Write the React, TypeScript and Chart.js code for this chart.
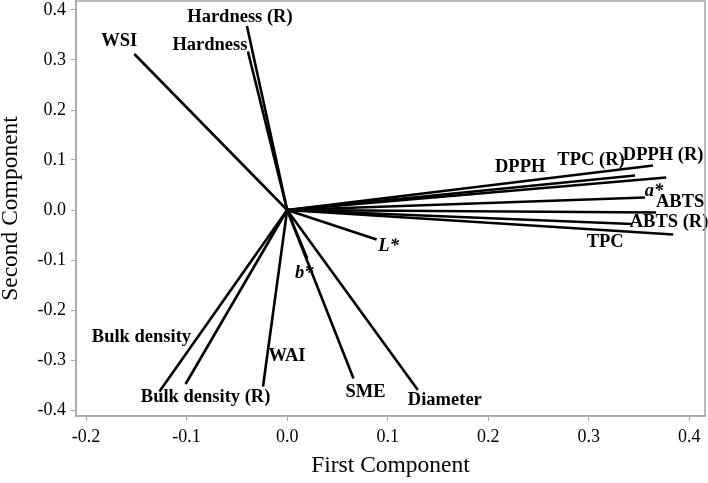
import React, { useEffect, useRef } from 'react';
import { Chart, registerables } from 'chart.js';

Chart.register(...registerables);

// ---- data ----
const variables = [
  'WSI', 'Hardness', 'Hardness (R)', 'DPPH (R)', 'TPC (R)', 'DPPH', 'a*', 'ABTS',
  'ABTS (R)', 'TPC', 'L*', 'b*', 'Bulk density', 'Bulk density (R)', 'WAI', 'SME', 'Diameter',
];
const firstComponent = [
  -0.152, -0.039, -0.040, 0.364, 0.346, 0.377, 0.356, 0.367,
  0.343, 0.384, 0.089, 0.020, -0.127, -0.101, -0.024, 0.066, 0.130,
];
const secondComponent = [
  0.312, 0.317, 0.368, 0.089, 0.069, 0.065, 0.025, -0.005,
  -0.028, -0.049, -0.059, -0.097, -0.363, -0.348, -0.353, -0.337, -0.360,
];
const xTicks = [-0.2, -0.1, 0.0, 0.1, 0.2, 0.3, 0.4];
const yTicks = [-0.4, -0.3, -0.2, -0.1, 0.0, 0.1, 0.2, 0.3, 0.4];

// ---- label layout (pixel offsets from line ends) ----
const labelOffsets: [number, number][] = [
  [-15, -13], [-38, -6], [-7, -9], [10, -10], [-44, -15], [-146, -10], [9, -6], [24, -10],
  [37, -2], [-68, 8], [12, 7], [-3, 15], [-18, -54], [20, 13], [24, -30], [12, 14], [27, 10],
];
const italicLabels = ['a*', 'L*', 'b*'];

const SERIF = '"Liberation Serif", "Times New Roman", serif';

const labelPlugin = {
  id: 'loadingLabels',
  afterDatasetsDraw(chart: any) {
    const { ctx, scales } = chart;
    const xs = scales.x;
    const ys = scales.y;
    ctx.save();
    ctx.fillStyle = '#000';
    ctx.textAlign = 'center';
    ctx.textBaseline = 'middle';
    variables.forEach((name, i) => {
      const px = xs.getPixelForValue(firstComponent[i]) + labelOffsets[i][0];
      const py = ys.getPixelForValue(secondComponent[i]) + labelOffsets[i][1];
      const italic = italicLabels.includes(name);
      ctx.font = `${italic ? 'italic ' : ''}bold 18.5px ${SERIF}`;
      ctx.fillText(name, px, py);
    });
    ctx.restore();
  },
};

const framePlugin = {
  id: 'frame',
  afterDraw(chart: any) {
    const { ctx, chartArea } = chart;
    ctx.save();
    ctx.strokeStyle = '#a6a6a6';
    ctx.lineWidth = 1.5;
    ctx.strokeRect(chartArea.left, chartArea.top, chartArea.right - chartArea.left, chartArea.bottom - chartArea.top);
    ctx.restore();
  },
};

export default function App() {
  const ref = useRef<HTMLCanvasElement | null>(null);

  useEffect(() => {
    if (!ref.current) return;
    const datasets = variables.map((name, i) => ({
      label: name,
      data: [
        { x: 0, y: 0 },
        { x: firstComponent[i], y: secondComponent[i] },
      ],
      showLine: true,
      borderColor: '#000',
      borderWidth: 2.6,
      pointRadius: 0,
      fill: false,
    }));
    const chart = new Chart(ref.current, {
      type: 'scatter',
      data: { datasets },
      plugins: [labelPlugin, framePlugin],
      options: {
        responsive: false,
        animation: false,
        layout: { padding: { left: 0, right: 3, top: 1, bottom: 0 } },
        plugins: { legend: { display: false }, tooltip: { enabled: false } },
        scales: {
          x: {
            type: 'linear',
            min: -0.21,
            max: 0.4156,
            afterBuildTicks: (s: any) => { s.ticks = xTicks.map((v) => ({ value: v })); },
            afterFit: (s: any) => { s.height = 67; s.paddingLeft = 0; s.paddingRight = 0; },
            ticks: {
              color: '#000',
              font: { family: SERIF, size: 18 },
              padding: 5,
              maxRotation: 0,
              callback: (v: any) => Number(v).toFixed(1),
            },
            grid: { display: true, drawOnChartArea: false, drawTicks: true, tickLength: 5, color: '#a6a6a6' },
            border: { display: true, color: '#a6a6a6', width: 1.5 },
            title: {
              display: true,
              text: 'First Component',
              color: '#000',
              font: { family: SERIF, size: 23.5 },
              padding: { top: 0, bottom: 3 },
            },
          },
          y: {
            type: 'linear',
            min: -0.412,
            max: 0.418,
            afterBuildTicks: (s: any) => { s.ticks = yTicks.map((v) => ({ value: v })); },
            afterFit: (s: any) => { s.width = 76; s.paddingTop = 0; s.paddingBottom = 0; },
            ticks: {
              color: '#000',
              font: { family: SERIF, size: 18 },
              padding: 5,
              callback: (v: any) => Number(v).toFixed(1),
            },
            grid: { display: true, drawOnChartArea: false, drawTicks: true, tickLength: 5, color: '#a6a6a6' },
            border: { display: true, color: '#a6a6a6', width: 1.5 },
            title: {
              display: true,
              text: 'Second Component',
              color: '#000',
              font: { family: SERIF, size: 23.5 },
              padding: { top: -3, bottom: 0 },
            },
          },
        },
      },
    } as any);
    return () => chart.destroy();
  }, []);

  return (
    <div style={{ position: 'fixed', left: 0, top: 0, width: 708, height: 483, background: '#fff' }}>
      <canvas ref={ref} width={708} height={483} style={{ display: 'block' }} />
    </div>
  );
}
